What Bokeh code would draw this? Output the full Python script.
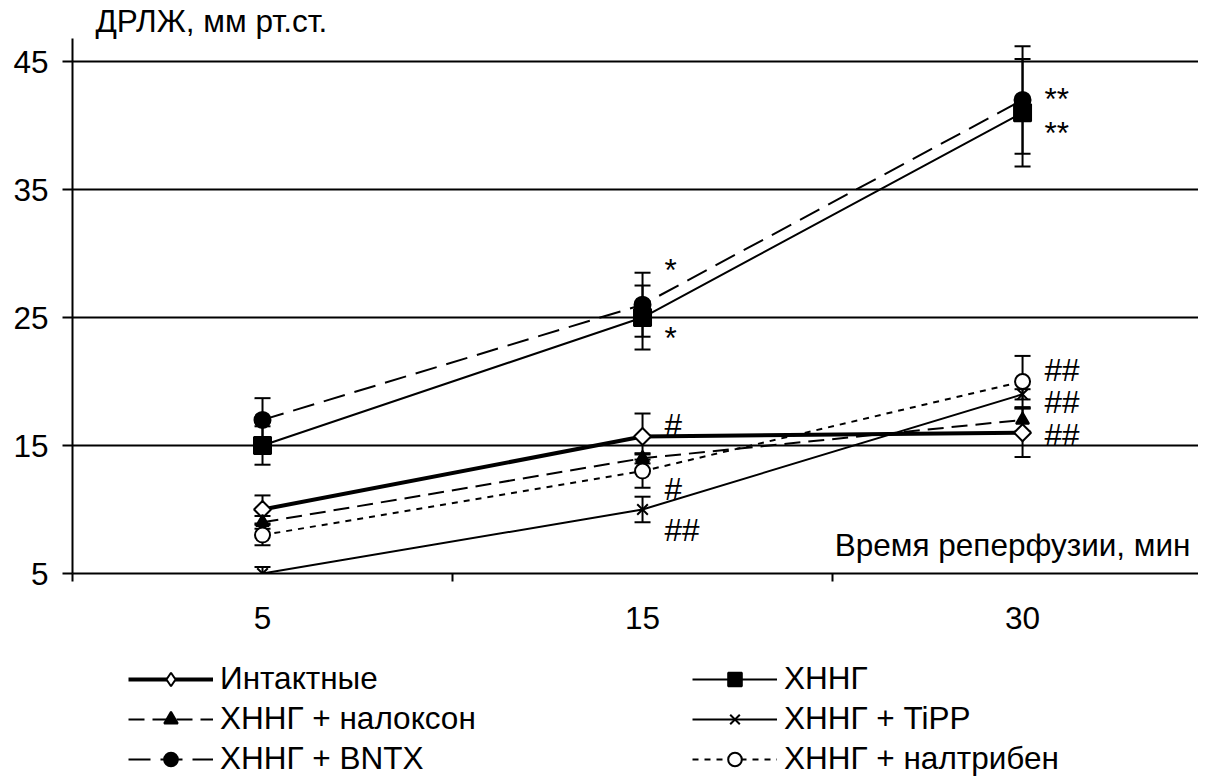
import numpy as np
from bokeh.plotting import figure
from bokeh.layouts import column
from bokeh.models import (Range1d, FixedTicker, Whisker, ColumnDataSource, Legend,
                          LegendItem, Label, TeeHead)
from bokeh.core.properties import value
from bokeh.embed import file_html
from bokeh.resources import INLINE

# ---------------- data ----------------
times = ["5", "15", "30"]
y_ticks = [5, 15, 25, 35, 45]

intact = [10, 15.7, 16]
intact_err = [1.1, 1.8, 1.9]
hnng = [15, 25, 41]
hnng_err = [1.5, 2.5, 4.2]
naloxone = [9, 14, 17]
naloxone_err = [0.5, 0.4, 0.9]
tipp = [5, 10, 19]
tipp_err = [0.5, 1.0, 0.4]
bntx = [17, 26, 42]
bntx_err = [1.7, 2.5, 4.2]
naltriben = [8, 13, 20]
naltriben_err = [0.8, 1.3, 2.0]

annot_text = ["**", "**", "*", "*", "#", "#", "##", "##", "##", "##"]
annot_time = ["30", "30", "15", "15", "15", "15", "15", "30", "30", "30"]
annot_y = [42.1, 39.4, 28.7, 23.4, 16.6, 11.6, 8.4, 20.9, 18.4, 15.8]

FONT = "Liberation Sans"
FS = "31.5px"

xpos = [i + 0.5 for i in range(len(times))]
tpos = {t: i + 0.5 for i, t in enumerate(times)}

p = figure(frame_width=1126, frame_height=535,
           x_range=Range1d(0, 2.963), y_range=Range1d(5, 46.8),
           output_backend="svg", toolbar_location=None,
           min_border_left=72, min_border_right=0, min_border_top=38,
           min_border_bottom=84)
p.outline_line_color = None
p.background_fill_color = "white"
p.border_fill_color = "white"

p.title.text = "ДРЛЖ, мм рт.ст."
p.title.align = "left"
p.title.offset = 23
p.title.standoff = 0
p.title.text_font = FONT
p.title.text_font_size = FS
p.title.text_font_style = "normal"
p.title.text_color = "black"

# axes
p.xaxis.ticker = FixedTicker(ticks=xpos, minor_ticks=[0, 1, 2, 3])
p.xaxis.major_label_overrides = {x: t for x, t in zip(xpos, times)}
p.xaxis.major_tick_line_color = None
p.xaxis.major_tick_out = 0
p.xaxis.major_tick_in = 0
p.xaxis.minor_tick_out = 8
p.xaxis.minor_tick_in = 0
p.xaxis.minor_tick_line_width = 2
p.xaxis.minor_tick_line_color = "black"
p.xaxis.major_label_standoff = 25

p.yaxis.ticker = FixedTicker(ticks=y_ticks)
p.yaxis.major_tick_out = 10
p.yaxis.major_tick_in = 0
p.yaxis.minor_tick_line_color = None
p.yaxis.major_tick_line_width = 2
p.yaxis.major_label_standoff = 14

for ax in (p.xaxis, p.yaxis):
    ax.axis_line_width = 2
    ax.axis_line_color = "black"
    ax.major_label_text_font = FONT
    ax.major_label_text_font_size = FS
    ax.major_label_text_color = "black"

p.xgrid.visible = False
p.ygrid.ticker = FixedTicker(ticks=y_ticks)
p.ygrid.grid_line_color = "black"
p.ygrid.grid_line_width = 2

series = [
    # name, values, errors, line_width, dash, marker, legend marker, size, fill, angle
    ("Интактные", intact, intact_err, 4, "solid", "square", "diamond", 12, "white", np.pi / 4),
    ("ХННГ", hnng, hnng_err, 2, "solid", "square", "square", 17, "black", 0),
    ("ХННГ + налоксон", naloxone, naloxone_err, 2, "16 8", "triangle", "triangle", 13, "black", 0),
    ("ХННГ + TiPP", tipp, tipp_err, 2, "solid", "x", "x", 15, "black", 0),
    ("ХННГ + BNTX", bntx, bntx_err, 2, "22 10", "circle", "circle", 16, "black", 0),
    ("ХННГ + налтрибен", naltriben, naltriben_err, 2, "6 6", "circle", "circle", 15, "white", 0),
]

sources = {}
for name, vals, errs, lw, dash, marker, lmarker, size, fill, angle in series:
    src = ColumnDataSource(dict(
        x=xpos, y=vals,
        upper=[v + e for v, e in zip(vals, errs)],
        lower=[v - e for v, e in zip(vals, errs)]))
    sources[name] = src
    p.line("x", "y", source=src, line_color="black", line_width=lw, line_dash=dash)

for name, *_ in series:
    src = sources[name]
    w = Whisker(source=src, base="x", upper="upper", lower="lower",
                line_color="black", line_width=2,
                upper_head=TeeHead(size=16, line_width=2, line_color="black"),
                lower_head=TeeHead(size=16, line_width=2, line_color="black"))
    p.add_layout(w)

for name, vals, errs, lw, dash, marker, lmarker, size, fill, angle in series:
    src = sources[name]
    p.scatter("x", "y", source=src, marker=marker, size=size,
              fill_color=fill, line_color="black", line_width=2, angle=angle)

# significance marks
asrc = ColumnDataSource(dict(x=[tpos[t] for t in annot_time], y=annot_y, text=annot_text))
p.text("x", "y", text="text", source=asrc, x_offset=22, text_align="left",
       text_baseline="middle", text_font=value(FONT), text_font_size=FS,
       text_color="black")

p.add_layout(Label(x=2.942, y=7.19, text="Время реперфузии, мин", text_font=FONT,
                   text_font_size=FS, text_color="black", text_align="right",
                   text_baseline="alphabetic"))

# ---------------- legend (separate strip below) ----------------
lg = figure(width=1198, height=120, x_range=Range1d(0, 1), y_range=Range1d(0, 1),
            output_backend="svg", toolbar_location=None,
            x_axis_location=None, y_axis_location=None,
            min_border=0)
lg.grid.visible = False
lg.outline_line_color = None
lg.background_fill_color = "white"
lg.border_fill_color = "white"

lrend = {}
for name, vals, errs, lw, dash, marker, lmarker, size, fill, angle in series:
    # legend-only renderers: NaN data, never drawn on the canvas
    ls = ColumnDataSource(dict(x=[np.nan], y=[np.nan]))
    ln = lg.line("x", "y", source=ls, line_color="black", line_width=lw, line_dash=dash)
    sc = lg.scatter("x", "y", source=ls, marker=lmarker, size=size, fill_color=fill,
                    line_color="black", line_width=2)
    lrend[name] = [ln, sc]

order = ["Интактные", "ХННГ + налоксон", "ХННГ + BNTX",
         "ХННГ", "ХННГ + TiPP", "ХННГ + налтрибен"]
items = [LegendItem(label=n, renderers=lrend[n]) for n in order]
legend = Legend(items=items, location=(56, 0), orientation="vertical",
                nrows=3, ncols=2,
                glyph_width=85, glyph_height=34, label_height=34,
                label_width=469, spacing=3, label_standoff=7,
                padding=0, margin=0, border_line_color=None,
                background_fill_alpha=0,
                label_text_font=FONT, label_text_font_size=FS,
                label_text_color="black")
lg.add_layout(legend, "center")

layout = column(p, lg, spacing=0)
open("out.html", "w").write(file_html(layout, INLINE))
